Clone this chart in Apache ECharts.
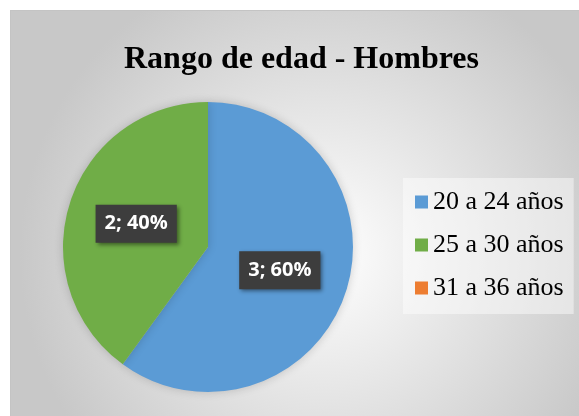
<!DOCTYPE html>
<html>
<head>
<meta charset="utf-8">
<script src="https://cdn.jsdelivr.net/npm/echarts@6/dist/echarts.min.js"></script>
<style>
html, body {margin:0; padding:0; background:#fff;}
#chart {position:absolute; left:10px; top:10px; width:569px; height:406px; border-top:1px solid #c4c4c4; border-left:1px solid #c4c4c4; box-sizing:border-box;}
</style>
</head>
<body>
<div id="chart"></div>
<script>
var titleText = 'Rango de edad - Hombres';
var categories = ['20 a 24 años', '25 a 30 años', '31 a 36 años'];
var values = [3, 2, 0];
var colors = ['#5B9BD5', '#70AD47', '#ED7D31'];

var dom = document.getElementById('chart');
var myChart = echarts.init(dom);

var pieData = [];
for (var i = 0; i < categories.length; i++) {
    pieData.push({
        name: categories[i],
        value: values[i],
        itemStyle: {color: colors[i]},
        label: {show: values[i] > 0}
    });
}

var option = {
    backgroundColor: {
        type: 'radial', x: 0.55, y: 0.6, r: 0.75,
        colorStops: [{offset: 0, color: '#ffffff'}, {offset: 1, color: '#c8c8c8'}]
    },
    title: {
        text: titleText,
        left: 108,
        top: 28,
        textStyle: {fontFamily: 'Liberation Serif', fontWeight: 'bold', fontSize: 32, color: '#000'}
    },
    legend: {
        orient: 'vertical',
        left: 392,
        top: 167,
        padding: [11, 10, 13, 12],
        backgroundColor: 'rgba(255,255,255,0.45)',
        itemWidth: 13,
        itemHeight: 13,
        itemGap: 17,
        icon: 'rect',
        data: categories,
        textStyle: {fontFamily: 'Liberation Serif', fontSize: 26, color: '#000'}
    },
    series: [{
        type: 'pie',
        center: [197, 236],
        radius: 145,
        startAngle: 90,
        clockwise: true,
        avoidLabelOverlap: false,
        silent: true,
        itemStyle: {shadowBlur: 10, shadowColor: 'rgba(0,0,0,0.18)'},
        label: {
            position: 'inside',
            formatter: function (p) { return p.value + '; ' + Math.round(p.percent) + '%'; },
            fontFamily: 'Open Sans',
            fontWeight: 'bold',
            fontSize: 20,
            color: '#fff',
            backgroundColor: '#3d3d3d',
            padding: [9, 9],
            shadowBlur: 4,
            shadowOffsetX: 2,
            shadowOffsetY: 2,
            shadowColor: 'rgba(0,0,0,0.45)'
        },
        labelLine: {show: false},
        data: pieData
    }]
};
if (option && typeof option === "object") {
    myChart.setOption(option, true);
}
</script>
</body>
</html>
